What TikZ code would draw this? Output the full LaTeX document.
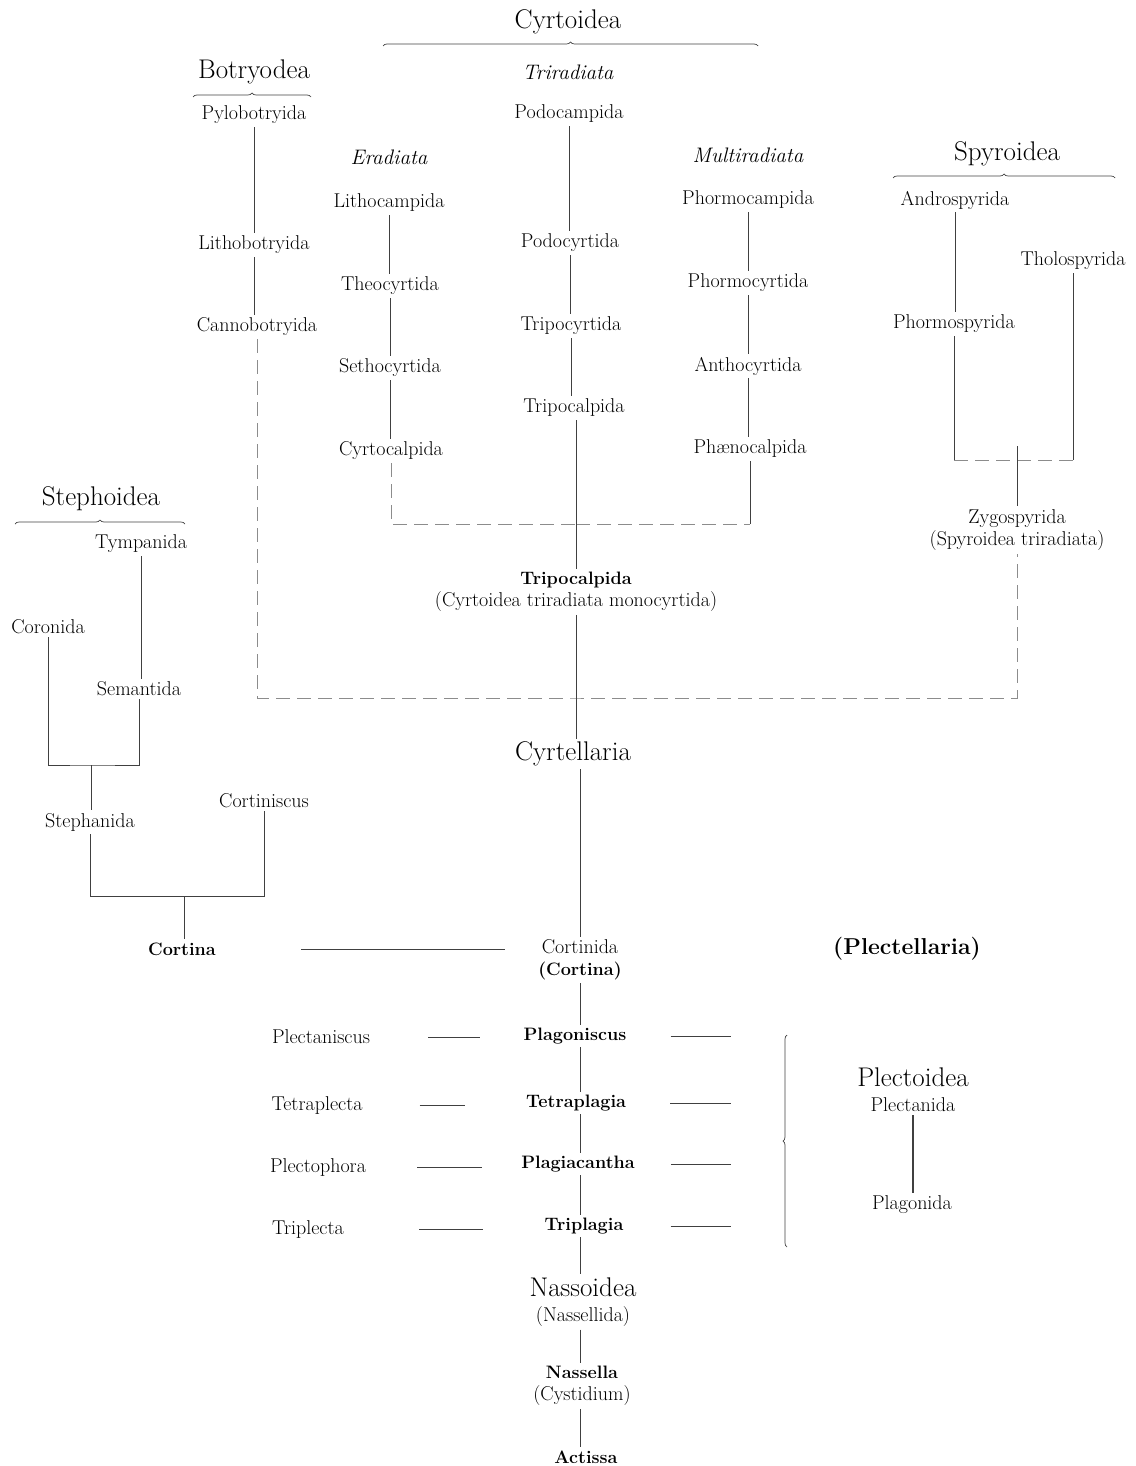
\documentclass[tikz,border=0pt]{standalone}
\usepackage{tikz}
\usetikzlibrary{decorations.pathreplacing}

\newcommand{\gen}[1]{{\fontsize{18}{22}\bfseries\selectfont #1}}
\newcommand{\lab}[1]{{\fontsize{20}{22}\selectfont #1}}

\begin{document}
\begin{tikzpicture}[x=1pt, y=-1pt,
    taxon/.style={font=\fontsize{20}{22}\selectfont, inner sep=3pt, align=center},
    genus/.style={font=\fontsize{18}{22}\bfseries\selectfont, inner sep=3pt, align=center},
    group/.style={font=\fontsize{27}{25}\selectfont, inner sep=3pt, align=center},
    branch/.style={font=\fontsize{21}{24}\itshape\selectfont, inner sep=3pt},
    link/.style={draw=black!75, line width=0.7pt},
    faint/.style={draw=black!45, line width=0.7pt, dash pattern=on 14pt off 7pt},
    bracket/.style={draw=black!75, line width=0.7pt, decorate, decoration={brace, amplitude=4pt}}]
    \useasboundingbox (0,0) rectangle (1135,1466);

    % headings
    \node[group] (cyrtoidea) at (568,22) {Cyrtoidea};
    \node[group] (botryodea) at (254,72) {Botryodea};
    \node[group] (spyroidea) at (1007,154) {Spyroidea};
    \node[group] (stephoidea) at (101,499) {Stephoidea};
    \node[group] (cyrtellaria) at (573,754) {Cyrtellaria};
    \node[font=\fontsize{23}{24}\bfseries\selectfont] (plectellaria) at (907,949) {(Plectellaria)};

    \node[branch] (triradiata) at (568,72) {Triradiata};
    \node[branch] (eradiata) at (389,157) {Eradiata};
    \node[branch] (multiradiata) at (748,155) {Multiradiata};

    % Botryodea
    \node[taxon] (pylo) at (254,115) {Pylobotryida};
    \node[taxon] (lithob) at (254,245) {Lithobotryida};
    \node[taxon] (canno) at (257,327) {Cannobotryida};

    % Cyrtoidea
    \node[taxon] (lithoc) at (389,203) {Lithocampida};
    \node[taxon] (theo) at (390,286) {Theocyrtida};
    \node[taxon] (setho) at (390,368) {Sethocyrtida};
    \node[taxon] (cyrtoc) at (391,451) {Cyrtocalpida};
    \node[taxon] (podocamp) at (569,114) {Podocampida};
    \node[taxon] (podocyrt) at (570,243) {Podocyrtida};
    \node[taxon] (tripocyrt) at (571,326) {Tripocyrtida};
    \node[taxon] (tripocalp) at (574,408) {Tripocalpida};
    \node[taxon] (phormoc) at (748,200) {Phormocampida};
    \node[taxon] (phormcyrt) at (748,283) {Phormocyrtida};
    \node[taxon] (antho) at (748,366) {Anthocyrtida};
    \node[taxon] (phaeno) at (750,449) {Ph\ae nocalpida};

    % Spyroidea
    \node[taxon] (andro) at (955,200) {Androspyrida};
    \node[taxon] (tholo) at (1073,261) {Tholospyrida};
    \node[taxon] (phormosp) at (954,324) {Phormospyrida};
    \node[taxon] (zygo) at (1017,530) {Zygospyrida\\(Spyroidea triradiata)};

    % Stephoidea
    \node[taxon] (tympan) at (141,544) {Tympanida};
    \node[taxon] (coronida) at (48,627) {Coronida};
    \node[taxon] (seman) at (139,689) {Semantida};
    \node[taxon] (stephan) at (90,822) {Stephanida};
    \node[taxon] (cortinisc) at (264,801) {Cortiniscus};
    \node[genus] (cortina) at (182,949) {Cortina};

    % main stem
    \node[taxon] (tripomono) at (576,592) {\gen{Tripocalpida}\\(Cyrtoidea triradiata monocyrtida)};
    \node[taxon] (cortinida) at (580,960) {Cortinida\\\gen{(Cortina)}};
    \node[genus] (plagonisc) at (575,1036) {Plagoniscus};
    \node[genus] (tetrapl) at (576,1103) {Tetraplagia};
    \node[genus] (plagiac) at (578,1164) {Plagiacantha};
    \node[genus] (tripl) at (584,1226) {Triplagia};
    \node[group] (nassoidea) at (583,1302) {Nassoidea\\\lab{(Nassellida)}};
    \node[taxon] (nassella) at (582,1386) {\gen{Nassella}\\(Cystidium)};
    \node[genus] (actissa) at (586,1457) {Actissa};

    % Plectoidea
    \node[taxon] (plectanisc) at (321,1037) {Plectaniscus};
    \node[taxon] (tetraplecta) at (317,1105) {Tetraplecta};
    \node[taxon] (plectoph) at (318,1167) {Plectophora};
    \node[taxon] (triplecta) at (308,1229) {Triplecta};
    \node[group] (plecto) at (913,1090) {Plectoidea\\\lab{Plectanida}};
    \node[taxon] (plagonida) at (912,1205) {Plagonida};

    \coordinate (cyrtbar) at (576,524);
    \coordinate (mainbar) at (578,698);
    \coordinate (spybar) at (1017,460);
    \coordinate (stephbar) at (91,765);
    \coordinate (cortbar) at (184,896);
    \coordinate (plectbrace) at (787,1140);

    % braces
    \draw[bracket] (383,46) -- (758,46);
    \draw[bracket] (193,97) -- (311,97);
    \draw[bracket] (893,178) -- (1115,178);
    \draw[bracket] (15,524) -- (185,524);
    \draw[bracket] (plectbrace) ++(0,107) -- ++(0,-212);

    % Botryodea
    \draw[link] (pylo) -- (pylo |- lithob.north);
    \draw[link] (lithob) -- (lithob |- canno.north);

    % Cyrtoidea
    \draw[link] (lithoc) -- (lithoc |- theo.north);
    \draw[link] (theo) -- (theo |- setho.north);
    \draw[link] (setho) -- (setho |- cyrtoc.north);
    \draw[link] (podocamp) -- (podocamp |- podocyrt.north);
    \draw[link] (podocyrt) -- (podocyrt |- tripocyrt.north);
    \draw[link] (tripocyrt) -- (tripocyrt |- tripocalp.north);
    \draw[link] (phormoc) -- (phormoc |- phormcyrt.north);
    \draw[link] (phormcyrt) -- (phormcyrt |- antho.north);
    \draw[link] (antho) -- (antho |- phaeno.north);
    \draw[faint] (cyrtoc) |- (cyrtbar);
    \draw[faint] (cyrtbar) -- (cyrtbar -| phaeno);
    \draw[link] (cyrtbar -| phaeno) -- (phaeno);
    \draw[link] (tripocalp.south -| tripomono) -- (tripomono);

    % Spyroidea
    \draw[link] (andro) -- (andro |- phormosp.north);
    \draw[link] (phormosp) -- (phormosp |- spybar);
    \draw[link] (tholo) -- (tholo |- spybar);
    \draw[faint] (phormosp |- spybar) -- (tholo |- spybar);
    \draw[link] ([yshift=14pt]spybar) -- (zygo);

    % join into Cyrtellaria
    \draw[faint] (canno) |- (mainbar) -| (zygo);
    \draw[link] (tripomono) -- (tripomono |- cyrtellaria.north);

    % Stephoidea
    \draw[link] (tympan) -- (tympan |- seman.north);
    \draw[link] (coronida) |- (stephbar) -| (seman);
    \draw[link] (stephbar) -- (stephbar |- stephan.north);
    \draw[link] (stephan) |- (cortbar) -| (cortinisc);
    \draw[link] (cortbar) -- (cortbar |- cortina.north);
    \draw[link, shorten <=82pt, shorten >=30pt] (cortina) -- (cortina -| cortinida.west);

    % main stem
    \draw[link] (cyrtellaria.south -| cortinida) -- (cortinida);
    \foreach \a/\b in {cortinida/plagonisc, plagonisc/tetrapl, tetrapl/plagiac, plagiac/tripl, tripl/nassoidea, nassoidea/nassella, nassella/actissa}
        \draw[link] (\a.south -| cortinida) -- (\b.north -| cortinida);

    % Plectoidea
    \draw[link, shorten <=55pt, shorten >=40pt] (plectanisc) -- (plectanisc -| plagonisc.west);
    \draw[link, shorten <=54pt, shorten >=58pt] (tetraplecta) -- (tetraplecta -| tetrapl.west);
    \draw[link, shorten <=48pt, shorten >=36pt] (plectoph) -- (plectoph -| plagiac.west);
    \draw[link, shorten <=72pt, shorten >=58pt] (triplecta) -- (triplecta -| tripl.west);
    \draw[link, shorten <=41pt, shorten >=56pt] (plagonisc) -- (plagonisc -| plectbrace);
    \draw[link, shorten <=41pt, shorten >=56pt] (tetrapl) -- (tetrapl -| plectbrace);
    \draw[link, shorten <=33pt, shorten >=56pt] (plagiac) -- (plagiac -| plectbrace);
    \draw[link, shorten <=44pt, shorten >=56pt] (tripl) -- (tripl -| plectbrace);
    \draw[link, line width=1.2pt] (plecto) -- (plecto |- plagonida.north);
\end{tikzpicture}
\end{document}
